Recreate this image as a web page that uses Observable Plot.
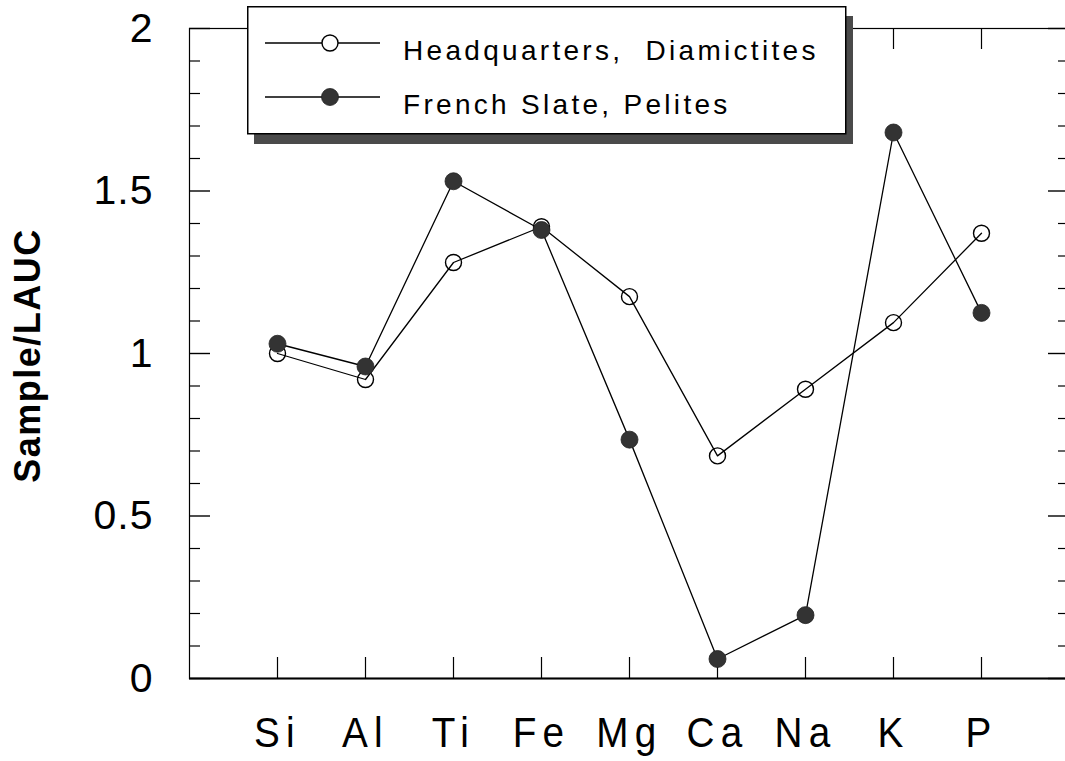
<!DOCTYPE html>
<html>
<head>
<meta charset="utf-8">
<script src="https://cdn.jsdelivr.net/npm/d3@7"></script>
<script src="https://cdn.jsdelivr.net/npm/@observablehq/plot@0.6"></script>
<style>
  html, body { margin: 0; padding: 0; background: #fff; overflow: hidden; width: 1065px; height: 761px; }
  #wrap { position: relative; width: 1080px; height: 761px; }
  #wrap > svg { max-width: none !important; }
  #legend { position: absolute; left: 247px; top: 6px; }
</style>
</head>
<body>
<div id="wrap"></div>
<script>
// Element ratios normalised to LAUC
const elements = ["Si", "Al", "Ti", "Fe", "Mg", "Ca", "Na", "K", "P"];
const headquarters = [1.00, 0.92, 1.28, 1.39, 1.175, 0.685, 0.89, 1.095, 1.37];
const frenchSlate = [1.03, 0.96, 1.53, 1.38, 0.735, 0.06, 0.195, 1.68, 1.125];
const seriesNames = ["Headquarters,  Diamictites", "French Slate, Pelites"];
const yTickValues = [0, 0.5, 1, 1.5, 2];
const yMinorTicks = d3.range(0, 21).map(i => i / 10);
const yLabel = "Sample/LAUC";

const hq = elements.map((e, i) => ({element: e, value: headquarters[i]}));
const fs = elements.map((e, i) => ({element: e, value: frenchSlate[i]}));
const minor = yMinorTicks.filter(v => !yTickValues.includes(v));

const W = 1070, H = 761;
const mL = 189, mR = 1, mT = 28, mB = 83;
const fw = W - mL - mR, fh = H - mT - mB;

const chart = Plot.plot({
  width: W,
  height: H,
  marginLeft: mL,
  marginRight: mR,
  marginTop: mT,
  marginBottom: mB,
  style: {fontFamily: "'Liberation Sans', Arial, sans-serif", background: "#fff", color: "#000", maxWidth: "none"},
  x: {type: "point", domain: elements, padding: 1},
  y: {domain: [0, 2]},
  marks: [
    Plot.frame({stroke: "#000", strokeWidth: 1.2}),
    Plot.ruleY([0], {stroke: "#000", strokeWidth: 2}),
    // inward ticks on left and right
    Plot.ruleY(minor, {stroke: "#000", strokeWidth: 1.2, insetRight: fw - 11}),
    Plot.ruleY(yTickValues, {stroke: "#000", strokeWidth: 1.4, insetRight: fw - 21}),
    Plot.ruleY(minor, {stroke: "#000", strokeWidth: 1.2, insetLeft: fw - 11}),
    Plot.ruleY(yTickValues, {stroke: "#000", strokeWidth: 1.4, insetLeft: fw - 21}),
    // category ticks on bottom and top
    Plot.ruleX(elements, {stroke: "#000", strokeWidth: 1.2, insetTop: fh - 21}),
    Plot.ruleX(elements, {stroke: "#000", strokeWidth: 1.2, insetBottom: fh - 21}),
    Plot.axisY({
      ticks: yTickValues,
      tickSize: 0,
      tickPadding: 36,
      tickFormat: d => String(d),
      fontSize: 41,
      label: null
    }),
    Plot.axisX({
      tickSize: 0,
      tickPadding: 38,
      fontSize: 43,
      label: null
    }),
    Plot.text([yLabel], {
      frameAnchor: "left",
      dx: -161,
      dy: 2,
      rotate: -90,
      textAnchor: "middle",
      lineAnchor: "middle",
      fontSize: 36,
      fontWeight: "bold"
    }),
    Plot.line(hq, {x: "element", y: "value", stroke: "#000", strokeWidth: 1.3}),
    Plot.line(fs, {x: "element", y: "value", stroke: "#000", strokeWidth: 1.3}),
    Plot.dot(hq, {x: "element", y: "value", r: 8, stroke: "#000", strokeWidth: 1.4, fill: "none"}),
    Plot.dot(fs, {x: "element", y: "value", r: 8.5, fill: "#333", stroke: "#222", strokeWidth: 0.8})
  ]
});

// condensed, widely spaced element labels
const xl = chart.querySelector('g[aria-label="x-axis tick label"]');
if (xl) {
  xl.style.letterSpacing = "7px";
  xl.querySelectorAll("text").forEach(t => {
    const tr = t.getAttribute("transform") || "";
    t.setAttribute("transform", tr + " scale(0.9,1)");
  });
}
const yl = chart.querySelector('g[aria-label="y-axis tick label"]');
if (yl) yl.style.letterSpacing = "1px";
const tl = chart.querySelectorAll('g[aria-label="text"] text');
tl.forEach(t => t.style.letterSpacing = "1.5px");

const wrap = document.getElementById("wrap");
wrap.appendChild(chart);

// Legend box with drop shadow, drawn over the top of the frame
const lg = d3.select(wrap).append("svg")
  .attr("id", "legend")
  .attr("width", 610).attr("height", 142)
  .style("font-family", "'Liberation Sans', Arial, sans-serif");
lg.append("rect").attr("x", 7).attr("y", 10).attr("width", 599).attr("height", 128).attr("fill", "#4a4a4a");
lg.append("rect").attr("x", 0.75).attr("y", 0.75).attr("width", 598).attr("height", 127)
  .attr("fill", "#fff").attr("stroke", "#000").attr("stroke-width", 1.5);
const rows = [
  {name: seriesNames[0], filled: false, y: 37},
  {name: seriesNames[1], filled: true, y: 91}
];
rows.forEach(r => {
  lg.append("line").attr("x1", 18).attr("x2", 133).attr("y1", r.y).attr("y2", r.y)
    .attr("stroke", "#000").attr("stroke-width", 1.3);
  lg.append("circle").attr("cx", 83).attr("cy", r.y).attr("r", r.filled ? 8.5 : 8)
    .attr("fill", r.filled ? "#333" : "#fff").attr("stroke", r.filled ? "#222" : "#000")
    .attr("stroke-width", r.filled ? 0.8 : 1.4);
  lg.append("text").attr("x", 156).attr("y", r.y + 17)
    .attr("font-size", 28).attr("letter-spacing", "3.3px").attr("fill", "#000")
    .style("white-space", "pre")
    .text(r.name);
});
</script>
</body>
</html>
